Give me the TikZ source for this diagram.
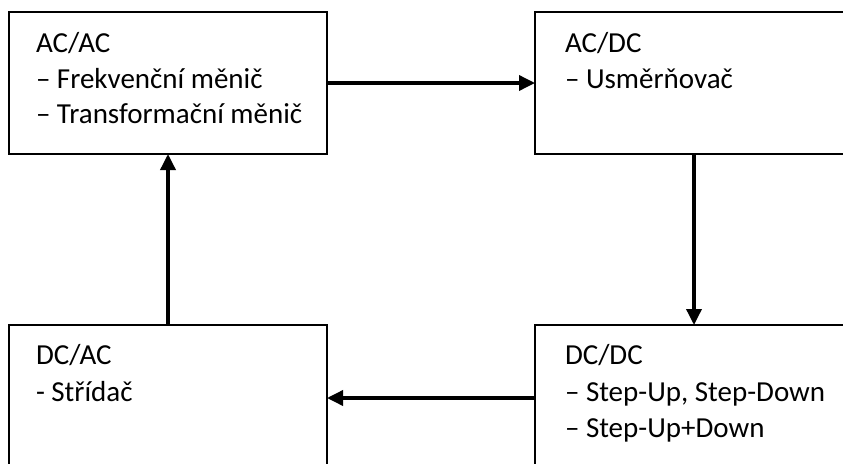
\documentclass[tikz,border=0pt]{standalone}
\usepackage{fontspec}
\setmainfont{Carlito}
\usetikzlibrary{positioning,arrows.meta}

\begin{document}
\begin{tikzpicture}
[x=1pt,y=-1pt, conv box/.style={rectangle,draw,line width=2.5pt,
    inner sep=0pt, outer sep=0pt, minimum width=318pt},
  top box/.style={conv box,minimum height=142pt},
  low box/.style={conv box,minimum height=146pt},
  line text/.style={anchor=base west,inner sep=0pt,outer sep=0pt,
    font=\fontsize{29}{34}\selectfont},
  flow/.style={-{Triangle[length=16pt,width=15pt]},line width=3.5pt}]

    \useasboundingbox (0,0) rectangle (843,463);
    \clip (0,0) rectangle (843,463);

    \node [top box] (acac) at (168,83) {};
    \node [top box] (acdc) at (694,83) {};
    \node [low box] (dcac) at (168,398) {};
    \node [low box] (dcdc) at (694,398) {};

    \node [line text] (acac1) at (36,52) {AC/AC};
    \node [line text] (acac2) at (36,88) {– Frekvenční měnič};
    \node [line text] (acac3) at (36,123) {– Transformační měnič};

    \node [line text] (acdc1) at (565,52) {AC/DC};
    \node [line text] (acdc2) at (565,88) {– Usměrňovač};

    \node [line text] (dcac1) at (36,364) {DC/AC};
    \node [line text] (dcac2) at (36,401) {- Střídač};

    \node [line text] (dcdc1) at (565,364) {DC/DC};
    \node [line text] (dcdc2) at (565,401) {– Step-Up, Step-Down};
    \node [line text] (dcdc3) at (565,437) {– Step-Up+Down};

    \draw[flow] (acac) -- (acdc);
    \draw[flow] (acdc) -- (dcdc);
    \draw[flow] (dcdc) -- (dcac);
    \draw[flow] (dcac) -- (acac);
\end{tikzpicture}
\end{document}
